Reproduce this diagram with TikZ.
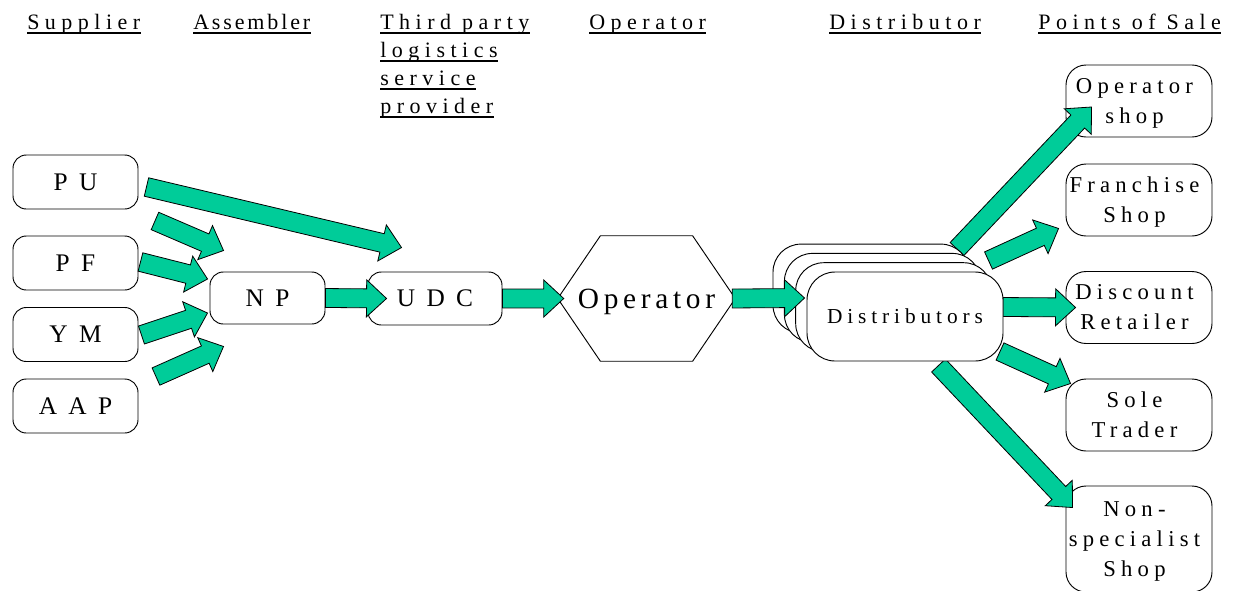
\documentclass[tikz,border=0pt]{standalone}
\usepackage{fontspec}
\setmainfont{Liberation Serif}
\usetikzlibrary{calc}
\definecolor{arrowgreen}{RGB}{0,204,153}
\newcommand\bxl[1]{\rule{0pt}{0.66em}\smash{#1}}
\newcommand\rxl[1]{\rule{0pt}{0.66em}\smash{#1}\kern0.4em}
\newcommand\barrow[2]{%
  \coordinate (ba-s) at #1;
  \coordinate (ba-e) at #2;
  \coordinate (ba-c) at ($(ba-e)!15pt!(ba-s)$);
  \filldraw[blockarrow] ($(ba-s)!7.1pt!90:(ba-e)$) -- ($(ba-c)!7.1pt!-90:(ba-s)$)
    -- ($(ba-c)!13.9pt!-90:(ba-s)$) -- (ba-e) -- ($(ba-c)!13.9pt!90:(ba-s)$)
    -- ($(ba-c)!7.1pt!90:(ba-s)$) -- ($(ba-s)!7.1pt!-90:(ba-e)$) -- cycle;}
\begin{document}
\begin{tikzpicture}[x=0.75pt,y=-0.75pt,
  hd/.style={font=\fontsize{16.5}{19}\selectfont\addfontfeature{LetterSpace=25}, inner sep=0pt, anchor=base west},
  ul/.style={line width=1.4pt},
  sbox/.style={draw, line width=0.7pt, rounded corners=10pt, minimum width=93.75pt, minimum height=40.5pt, inner sep=0pt,
    font=\fontsize{19}{22}\selectfont\addfontfeature{LetterSpace=45}},
  rbox/.style={draw, line width=0.7pt, rounded corners=15pt, minimum width=109.5pt, minimum height=54pt, inner sep=0pt, align=center,
    font=\fontsize{17}{22.5}\selectfont\addfontfeature{LetterSpace=23}},
  dbox/.style={draw, line width=0.7pt, fill=white, rounded corners=21pt, minimum width=147pt, minimum height=66.75pt, inner sep=0pt,
    font=\fontsize{16}{19}\selectfont\addfontfeature{LetterSpace=23}},
  hexlabel/.style={inner sep=0pt, minimum width=132.75pt, minimum height=93.75pt,
    font=\fontsize{22}{26}\selectfont\addfontfeature{LetterSpace=16}},
  hexline/.style={draw, line width=0.7pt},
  blockarrow/.style={fill=arrowgreen, draw=black, line width=0.6pt, line join=miter}
]
\useasboundingbox (0,0) rectangle (1245,590);

% column headers
\node[hd] (hsup) at (27,29) {Supplier};
\node[hd, font=\fontsize{16.5}{19}\selectfont\addfontfeature{LetterSpace=13}] (hass) at (193,29) {Assembler};
\node[hd] (htpa) at (380,29) {Third party};
\node[hd] (htpb) at (380,57) {logistics};
\node[hd] (htpc) at (380,85) {service~};
\node[hd] (htpd) at (380,113) {provider};
\node[hd] (hop) at (589,29) {Operator};
\node[hd] (hdis) at (829,29) {Distributor};
\node[hd] (hpos) at (1038,29) {Points of Sale};
\foreach \h in {hsup,hass,htpa,htpb,htpc,htpd,hop,hdis,hpos}
  \draw[ul] ([yshift=-3pt]\h.base west) -- ([yshift=-3pt]\h.base east);

% suppliers, assembler, 3PL
\node[sbox] (PU) at (75.5,182) {\bxl{PU}};
\node[sbox] (PF) at (75.5,263) {\bxl{PF}};
\node[sbox] (YM) at (75.5,334.5) {\bxl{YM}};
\node[sbox] (AAP) at (75.5,406) {\bxl{AAP}};
\node[sbox, minimum width=86.25pt, minimum height=39pt] (NP) at (267.5,298) {\bxl{NP}};
\node[sbox, minimum width=100.5pt, minimum height=39.75pt] (UDC) at (435,298.5) {\bxl{UDC}};

% operator hexagon
\node[hexlabel] (op) at (646.5,298.5) {\bxl{Operator}};
\draw[hexline] (op.west) -- ([xshift=32pt]op.north west) -- ([xshift=-32pt]op.north east)
  -- (op.east) -- ([xshift=-32pt]op.south east) -- ([xshift=32pt]op.south west) -- cycle;

% points of sale
\node[rbox] (OS) at (1139,101) {\rxl{Operator}\\\rxl{shop}};
\node[rbox] (FS) at (1139,200) {\rxl{Franchise}\\\rxl{Shop}};
\node[rbox] (DR) at (1139,307.5) {\rxl{Discount}\\\rxl{Retailer}};
\node[rbox] (ST) at (1139,415) {\rxl{Sole}\\\rxl{Trader}};
\node[rbox, minimum height=79.5pt] (NS) at (1139,539) {\rxl{Non-}\\\rxl{specialist}\\\rxl{Shop}};

% distributor stack (front box D4)
\coordinate (dfront) at (905,316.5);
% arrows from distributors to points of sale (under the stack)
\barrow{($(dfront)+(52,-67.5)$)}{($(OS.west)+(26,6)$)}
\barrow{($(dfront)+(83.5,-56)$)}{($(FS.south west)+(-7,-8)$)}
\barrow{($(dfront)+(98,-9.5)$)}{($(DR.west)+(10,0)$)}
\barrow{($(dfront)+(95,35)$)}{($(ST.north west)+(5,5)$)}
\barrow{($(dfront)+(33.5,49)$)}{($(NS.north west)+(7,22)$)}

\node[dbox] (D1) at (871,288.6) {};
\node[dbox] (D2) at (882.4,297.9) {};
\node[dbox] (D3) at (893.7,307.2) {};
\node[dbox] (D4) at (dfront) {\bxl{Distributors}};

% arrows left part
\barrow{($(PU.east)+(8,5)$)}{($(UDC.north west)+(34,-24)$)}
\barrow{($(PU.south east)+(16.5,11.5)$)}{($(NP.north west)+(14,-21)$)}
\barrow{($(PF.east)+(2,-1)$)}{($(NP.west)+(-2,-19)$)}
\barrow{($(YM.east)+(3,0.5)$)}{($(NP.west)+(-2,15)$)}
\barrow{($(AAP.north east)+(17.5,-2)$)}{($(NP.south west)+(14,22)$)}
\barrow{(NP.east)}{($(UDC.west)+(19,0)$)}
\barrow{(UDC.east)}{($(op.west)+(6,0)$)}
\barrow{($(op.east)+(-3,0)$)}{($(D4.west)+(-2,-18.5)$)}
\end{tikzpicture}
\end{document}
